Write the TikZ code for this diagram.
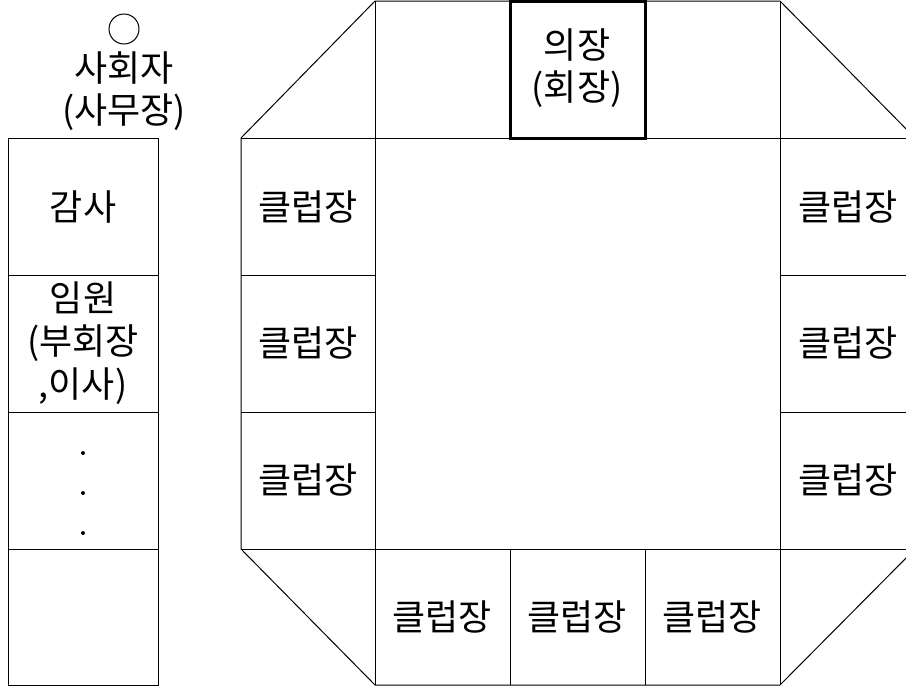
\documentclass[tikz,border=0pt]{standalone}
\usepackage{fontspec}
\newfontfamily\krfont{Noto Sans CJK KR}
\tikzset{every picture/.style={line width=0.75pt}}
\begin{document}
\begin{tikzpicture}[x=0.75pt,y=0.75pt,yscale=-1,xscale=1,
  lbl/.style={inner sep=0.75pt, align=center, font=\krfont\fontsize{27}{32}\selectfont},
  chair/.style={line width=2.25pt}]
\useasboundingbox (0,0) rectangle (906,686);

%Shape: Octagon table
\draw (375,1) -- (780,1) -- (915,138) -- (915,549) -- (780,685) -- (375,685) -- (241,549) -- (241,138) -- cycle ;
%Straight Lines: rows
\draw (241,138) -- (915,138) ;
\draw (241,549) -- (915,549) ;
\draw (241,275) -- (375,275) ;
\draw (241,412) -- (375,412) ;
\draw (780,275) -- (915,275) ;
\draw (780,412) -- (915,412) ;
%Straight Lines: columns
\draw (375,1) -- (375,685) ;
\draw (780,1) -- (780,685) ;
\draw (510,549) -- (510,685) ;
\draw (645,549) -- (645,685) ;
%Shape: Rectangle (chair seat)
\draw [chair] (510,1) rectangle (645,138) ;

%Shape: Rectangle (left column)
\draw (8,138) rectangle (158,685) ;
\draw (8,275) -- (158,275) ;
\draw (8,412) -- (158,412) ;
\draw (8,549) -- (158,549) ;

%Shape: Circle
\draw (124,29) circle (15) ;
%Shape: Dots
\fill (83,453) circle (2) ;
\fill (83,493) circle (2) ;
\fill (83,533) circle (2) ;

% Text Node
\node [lbl] (host) at (124,91) {사회자\\(사무장)};
% Text Node
\node [lbl] (chairman) at (577,68) {의장\\(회장)};
% Text Node
\node [lbl] (audit) at (83,207) {감사};
% Text Node
\node [lbl] (officer) at (83,343) {임원\\(부회장\\,이사)};
% Text Node
\node [lbl] (cl1) at (308,207) {클럽장};
\node [lbl] (cl2) at (308,343) {클럽장};
\node [lbl] (cl3) at (308,480) {클럽장};
% Text Node
\node [lbl] (cr1) at (848,207) {클럽장};
\node [lbl] (cr2) at (848,343) {클럽장};
\node [lbl] (cr3) at (848,480) {클럽장};
% Text Node
\node [lbl] (cb1) at (442,617) {클럽장};
\node [lbl] (cb2) at (577,617) {클럽장};
\node [lbl] (cb3) at (712,617) {클럽장};

\end{tikzpicture}
\end{document}
